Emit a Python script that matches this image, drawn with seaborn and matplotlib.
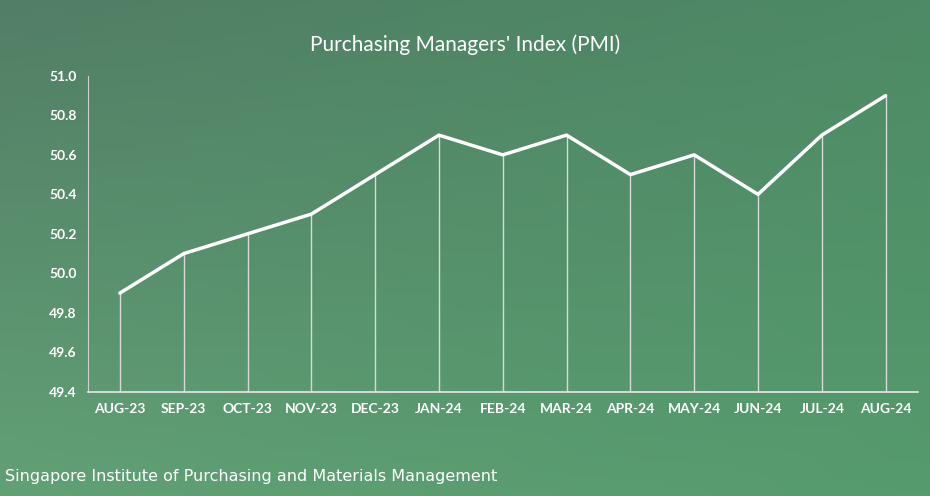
import numpy as np
import pandas as pd
import matplotlib
matplotlib.use("Agg")
import matplotlib.pyplot as plt
import seaborn as sns

months = ["AUG-23", "SEP-23", "OCT-23", "NOV-23", "DEC-23", "JAN-24", "FEB-24",
          "MAR-24", "APR-24", "MAY-24", "JUN-24", "JUL-24", "AUG-24"]
pmi = [49.9, 50.1, 50.2, 50.3, 50.5, 50.7, 50.6, 50.7, 50.5, 50.6, 50.4, 50.7, 50.9]
yticks = [49.4, 49.6, 49.8, 50.0, 50.2, 50.4, 50.6, 50.8, 51.0]

df = pd.DataFrame({"month": months, "pmi": pmi, "pos": range(len(months))})

sns.set_style("white")
plt.rcParams["font.family"] = ["Lato", "DejaVu Sans"]

fig = plt.figure(figsize=(9.3, 4.96), dpi=100)

# gradient background
bg = fig.add_axes([0, 0, 1, 1])
gx, gy = np.meshgrid(np.linspace(0, 1, 200), np.linspace(0, 1, 100))
c0 = np.array([82, 126, 102]) / 255
c1 = np.array([98, 160, 118]) / 255
c2 = np.array([72, 150, 100]) / 255
img = (c0[None, None, :] * (1 - gy[..., None]) + c1[None, None, :] * gy[..., None])
img = img * (1 - 0.5 * gx[..., None]) + c2[None, None, :] * 0.5 * gx[..., None]
bg.imshow(img, extent=[0, 1, 0, 1], aspect="auto", origin="upper")
bg.axis("off")

ax = fig.add_axes([0.0946, 0.21, 0.892, 0.637])
ax.patch.set_alpha(0)
ax.vlines(df["pos"], 49.4, df["pmi"], color="#d9d9d9", lw=1)
sns.lineplot(data=df, x="pos", y="pmi", ax=ax, color="white", lw=2.5)
ax.set_xlim(-0.5, 12.5)
ax.set_ylim(49.4, 51.0)
ax.set_xticks(range(len(months)))
ax.set_xticklabels(months)
ax.set_yticks(yticks)
ax.set_yticklabels([f"{v:.1f}" for v in yticks])
ax.tick_params(colors="white", labelsize=10, length=0, pad=8)
for lab in ax.get_xticklabels() + ax.get_yticklabels():
    lab.set_fontweight("bold")
ax.set_xlabel("")
ax.set_ylabel("")
for s in ["top", "right"]:
    ax.spines[s].set_visible(False)
ax.spines["left"].set_color("#d0d0d0")
ax.spines["bottom"].set_color("#e8e8e8")
ax.spines["bottom"].set_linewidth(1.2)

fig.text(0.5, 0.91, "Purchasing Managers' Index (PMI)", ha="center", va="center",
         color="white", fontsize=15)
fig.text(0.005, 0.04, "Singapore Institute of Purchasing and Materials Management",
         ha="left", va="center", color="white", fontsize=11.5, fontfamily="DejaVu Sans")

fig.savefig("out.png", dpi=100)
